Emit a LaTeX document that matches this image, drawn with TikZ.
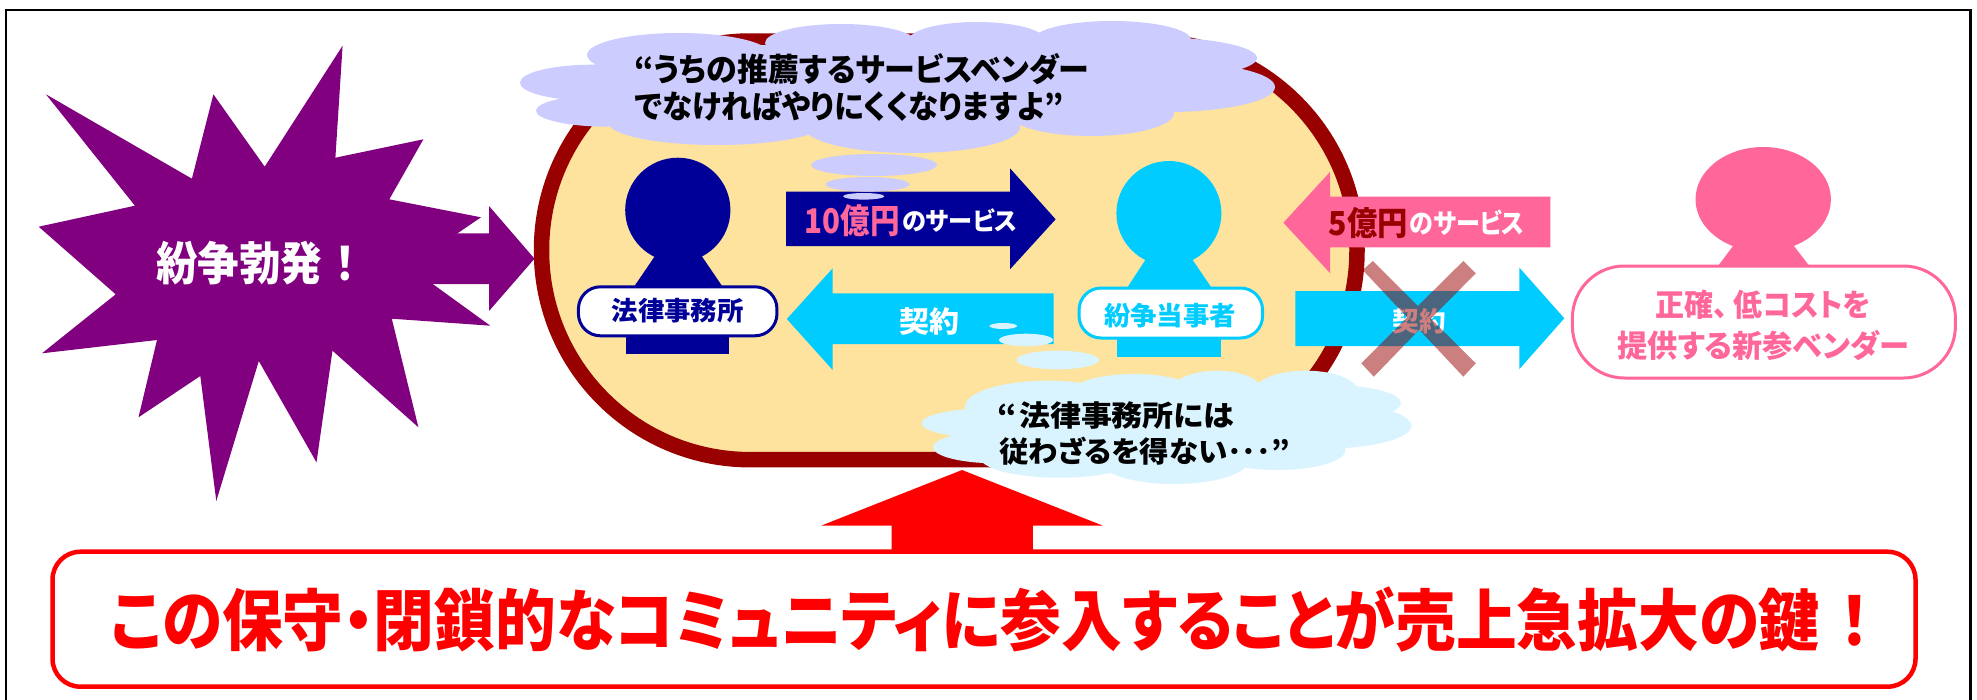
\documentclass[tikz,border=0pt]{standalone}
\usepackage{fontspec}
\setmainfont{Noto Sans CJK JP}[RawFeature={+palt},BoldFont={Noto Sans CJK JP Black}]
\usepackage{graphicx}
\definecolor{cstar}{HTML}{800080}
\definecolor{cnavy}{HTML}{000099}
\definecolor{ccyan}{HTML}{00CCFF}
\definecolor{cpink}{HTML}{FF6699}
\definecolor{cdred}{HTML}{990000}
\definecolor{cbeige}{HTML}{FDE39D}
\definecolor{clav}{HTML}{CCCCFF}
\definecolor{cpale}{HTML}{D9F4FF}
\definecolor{cred}{HTML}{FF0000}
\newcommand{\fitw}[3]{{\fontsize{#2}{#2}\selectfont\resizebox{#1pt}{\height}{#3}}}
\newcommand{\lobe}[4]{(#1,#2) ellipse [x radius=#3pt, y radius=#4pt]}
\tikzset{
  txt/.style={inner sep=0pt, outer sep=0pt, font=\bfseries},
  lab/.style={fill=white, line width=3pt, inner sep=0pt},
}
\begin{document}
\begin{tikzpicture}[x=1pt,y=-1pt]
\useasboundingbox (0,0) rectangle (1977,699);
\fill[white] (0,0) rectangle (1977,699);
% frame
\draw[black,line width=2.5pt] (6,700) -- (6,10) -- (1970.5,10) -- (1970.5,700);
% big community shape
\draw[cdred,fill=cbeige,line width=15.5pt,rounded corners=209pt] (541.5,41) rectangle (1357,459.7);
% purple arrow and star
\fill[cstar] (400,233.3) -- (489,233.3) -- (489,206) -- (534.5,258.7) -- (489,311) -- (489,284) -- (400,284) -- cycle;
\fill[cstar] (342.6,45.7) -- (335.4,157.7) -- (423.4,139.3) -- (389.3,199.3) -- (481,217.3) -- (457.5,233.3) -- (432.7,284) -- (490.3,325.7) -- (391.8,318.7) -- (418.4,427.3) -- (332.5,350.7) -- (316.5,462.3) -- (258.8,361) -- (216.3,501) -- (200.3,376) -- (138.5,417.3) -- (157,340) -- (42,353.3) -- (115.7,294.3) -- (38.7,226.7) -- (135,205.7) -- (45.9,94.3) -- (191.9,178.7) -- (213.4,94.3) -- (264.7,166.7) -- cycle;
\node[txt,text=white] (burst) at (256,263) {\fitw{200}{46}{紛争勃発\kern14pt ！}};
% persons
\fill[cnavy] \lobe{677.8}{210}{52.6}{52.3};
\fill[cnavy] (655.6,255) -- (701,255) -- (724.8,290) -- (631.8,290) -- cycle;
\fill[cnavy] (626,320) rectangle (729.3,354.3);
\node[lab,draw=cnavy,minimum width=198.5pt,minimum height=49pt,rounded corners=22pt] (law) at (677.7,311.3) {};
\node[txt,text=cnavy] (lawt) at (677.7,311) {\fitw{132}{26}{法律事務所}};
\fill[ccyan] \lobe{1168.9}{213.3}{52.5}{52.3};
\fill[ccyan] (1146,259) -- (1192,259) -- (1214.4,292) -- (1124.3,292) -- cycle;
\fill[ccyan] (1117.4,320) rectangle (1221.3,357.3);
\node[lab,draw=ccyan,minimum width=183.5pt,minimum height=50pt,rounded corners=22pt] (party) at (1170.8,313) {};
\node[txt,text=ccyan] (partyt) at (1170,315.5) {\fitw{132}{26}{紛争当事者}};
\fill[cpink] \lobe{1763.2}{199.3}{67.7}{52.3};
\fill[cpink] (1734.5,244) -- (1792.4,244) -- (1812.4,270) -- (1715,270) -- cycle;
\node[lab,draw=cpink,minimum width=383pt,minimum height=112pt,rounded corners=52pt] (vendor) at (1763.9,322) {};
\node[txt,text=cpink] (v1) at (1763.2,305) {\fitw{214.6}{31}{正確、\kern6pt 低コストを}};
\node[txt,text=cpink] (v2) at (1763.2,345) {\fitw{292}{31}{提供する新参ベンダー}};
% navy arrow
\fill[cnavy] (786.2,191.7) -- (1010,191.7) -- (1010,168.3) -- (1055.6,219.3) -- (1010,269.3) -- (1010,246) -- (786.2,246) -- cycle;
\node[txt,text=cpink] (t10) at (852.3,220.7) {\fitw{95}{34}{10億円}};
\node[txt,text=white] (t10b) at (959.8,220.7) {\fitw{115}{25}{のサービス}};
% cyan left arrow
\fill[ccyan] (786.8,319) -- (832.7,268.3) -- (832.7,293.3) -- (1053.7,293.3) -- (1053.7,344) -- (832.7,344) -- (832.7,370) -- cycle;
\node[txt,text=white] (kl) at (929,321.7) {\fitw{60}{29}{契約}};
% pink arrow
\fill[cpink] (1283.4,222.7) -- (1330.2,171.7) -- (1330.2,196.7) -- (1550.4,196.7) -- (1550.4,247.3) -- (1330.2,247.3) -- (1330.2,273.3) -- cycle;
\node[txt,text=cdred] (t5) at (1368.2,223) {\fitw{79}{33}{5億円}};
\node[txt,text=white] (t5b) at (1467.2,223) {\fitw{114.5}{27}{のサービス}};
% cyan right arrow
\fill[ccyan] (1295.4,291) -- (1519.4,291) -- (1519.4,267.7) -- (1564.3,318.3) -- (1519.4,369) -- (1519.4,346) -- (1295.4,346) -- cycle;
\node[txt,text=white] (kr) at (1419.2,321.7) {\fitw{53.3}{27}{契約}};
% cross
\fill[cdred,fill opacity=0.5] (1372.9,261) -- (1417.8,306) -- (1463.3,261) -- (1475.8,273.3) -- (1430.8,318.7) -- (1475.8,363.3) -- (1463.3,376.7) -- (1419.2,329.7) -- (1373.8,376.7) -- (1361.3,363.3) -- (1407.2,317.3) -- (1362.7,270) -- cycle;
% lavender cloud
\fill[clav] (650,45) rectangle (1150,115)
  \lobe{679}{55}{92}{22} \lobe{592}{82.7}{72}{18} \lobe{608}{110.7}{72}{16}
  \lobe{717}{123}{108}{22} \lobe{912}{127}{108}{26} \lobe{1091}{113}{83}{23}
  \lobe{1167}{87}{108}{25} \lobe{1150}{58}{107}{21} \lobe{1112}{40}{79}{19}
  \lobe{977}{40}{68}{18} \lobe{841}{43}{76}{19};
\fill[clav] \lobe{874}{165}{63}{11} \lobe{867.5}{184.3}{42}{7.3} \lobe{863.7}{196.3}{20.6}{3.3};
\node[txt,anchor=west,text=black] (q1a) at (634.4,69) {\fitw{455}{32}{“うちの推薦するサービスベンダー}};
\node[txt,anchor=west,text=black] (q1b) at (634.4,106.7) {\fitw{429}{32}{でなければやりにくくなりますよ”}};
% pale cloud
\fill[cpale] (1000,400) rectangle (1320,450)
  \lobe{1048}{406.7}{83}{26} \lobe{1134}{393}{63}{19} \lobe{1217}{391.7}{46}{21}
  \lobe{1306}{391.7}{52}{21} \lobe{1329}{403}{72}{18} \lobe{1323.5}{425.7}{88}{23}
  \lobe{1277.6}{450}{68}{20} \lobe{1174}{460}{75}{24} \lobe{1059.4}{456.7}{80}{21}
  \lobe{996}{447.3}{63}{16} \lobe{990.5}{423.3}{69}{15};
\fill[cpale] \lobe{1003.2}{326}{13.8}{3} \lobe{1026}{340}{27}{6.3} \lobe{1057.7}{360}{41.3}{9.3};
\node[txt,anchor=west,text=black] (q2a) at (997.4,416) {\fitw{237}{29}{“\kern2pt 法律事務所には}};
\node[txt,anchor=west,text=black] (q2b) at (999,451.7) {\fitw{291}{29}{従わざるを得ない･･･”}};
% red arrow and box
\node[draw=cred,line width=4.5pt,fill=white,minimum width=1863pt,minimum height=135pt,rounded corners=28pt,inner sep=0pt] (key) at (984,619.2) {};
\fill[cred] (962,470) -- (1103,525.7) -- (1032.8,525.7) -- (1032.8,553) -- (891.6,553) -- (891.6,525.7) -- (821,525.7) -- cycle;
\node[txt,text=cred] (keyt) at (990.5,619.5) {\fitw{1759}{67}{この保守・閉鎖的なコミュニティに参入することが売上急拡大の鍵\kern22pt ！}};
\end{tikzpicture}
\end{document}
